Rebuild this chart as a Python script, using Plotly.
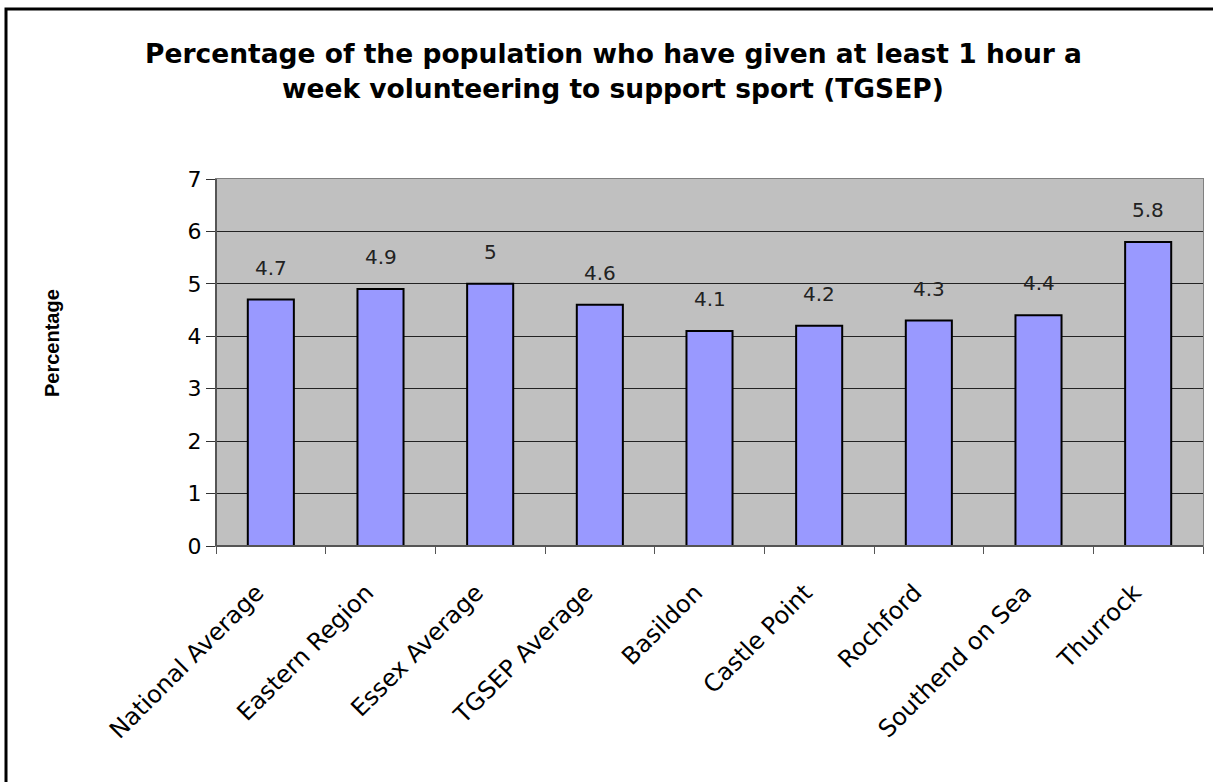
import plotly.graph_objects as go

categories = ["National Average", "Eastern Region", "Essex Average", "TGSEP Average",
              "Basildon", "Castle Point", "Rochford", "Southend on Sea", "Thurrock"]
values = [4.7, 4.9, 5.0, 4.6, 4.1, 4.2, 4.3, 4.4, 5.8]
value_labels = ["4.7", "4.9", "5", "4.6", "4.1", "4.2", "4.3", "4.4", "5.8"]
y_ticks = [0, 1, 2, 3, 4, 5, 6, 7]
title_lines = ["Percentage of the population who have given at least 1 hour a",
               "week volunteering to support sport (TGSEP)"]
y_title = "Percentage"

W, H = 1213, 782
ml, mr, mt, mb = 216, 10, 179, 236
pw, ph = W - ml - mr, H - mt - mb
FONT = "DejaVu Sans"
TFONT = "Liberation Sans"

fig = go.Figure()
fig.add_trace(go.Bar(
    x=categories, y=values, width=0.42,
    marker=dict(color="#9999FF", line=dict(color="#000000", width=2)),
    hoverinfo="x+y",
))

for c, v, t in zip(categories, values, value_labels):
    fig.add_annotation(x=c, y=v, text=t, showarrow=False, yanchor="bottom",
                       yshift=18, font=dict(family=FONT, size=20, color="#222222"))

# title as two centred lines
for i, line in enumerate(title_lines):
    fig.add_annotation(xref="paper", yref="paper", x=(613 - ml) / pw,
                       y=(H - mb - (62 + 36 * i)) / ph, yanchor="middle", xanchor="center",
                       yshift=9, text="<b>" + line + "</b>", showarrow=False,
                       font=dict(family=FONT, size=26.5, color="#000000"))

fig.add_annotation(xref="paper", yref="paper", x=(52 - ml) / pw, y=(H - mb - 343) / ph,
                   text="<b>" + y_title + "</b>", textangle=-90, showarrow=False,
                   xanchor="center", yanchor="middle",
                   font=dict(family=TFONT, size=20, color="#000000"))

fig.add_shape(type="rect", xref="paper", yref="paper",
              x0=(6 - ml) / pw, x1=1.3, y0=-1.5, y1=(H - mb - 9) / ph,
              line=dict(color="#000000", width=3), fillcolor="rgba(0,0,0,0)", layer="above")

fig.update_layout(
    width=W, height=H,
    margin=dict(l=ml, r=mr, t=mt, b=mb, autoexpand=False),
    paper_bgcolor="#FFFFFF", plot_bgcolor="#C0C0C0",
    showlegend=False,
)
fig.update_xaxes(
    tickangle=-45, tickfont=dict(family=FONT, size=24, color="#000000"),
    showline=True, linecolor="#808080", linewidth=1, mirror=True,
    ticks="outside", tickson="boundaries", ticklen=7, tickcolor="#555555",
    ticklabelstandoff=22, ticklabelshift=-14,
    showgrid=False,
)
fig.update_yaxes(
    range=[0, 7], tickvals=y_ticks, ticktext=[str(t) for t in y_ticks],
    tickfont=dict(family=FONT, size=22, color="#000000"),
    showline=True, linecolor="#808080", linewidth=1, mirror=True,
    ticks="outside", ticklen=9, tickcolor="#333333",
    showgrid=True, gridcolor="#222222", gridwidth=1, zeroline=False,
)
# darker left/bottom axis lines
fig.add_shape(type="line", xref="paper", yref="paper", x0=0, x1=0, y0=0, y1=1,
              line=dict(color="#555555", width=2), layer="above")
fig.add_shape(type="line", xref="paper", yref="paper", x0=0, x1=1, y0=0, y1=0,
              line=dict(color="#555555", width=2), layer="above")

fig.write_html("out.html")
